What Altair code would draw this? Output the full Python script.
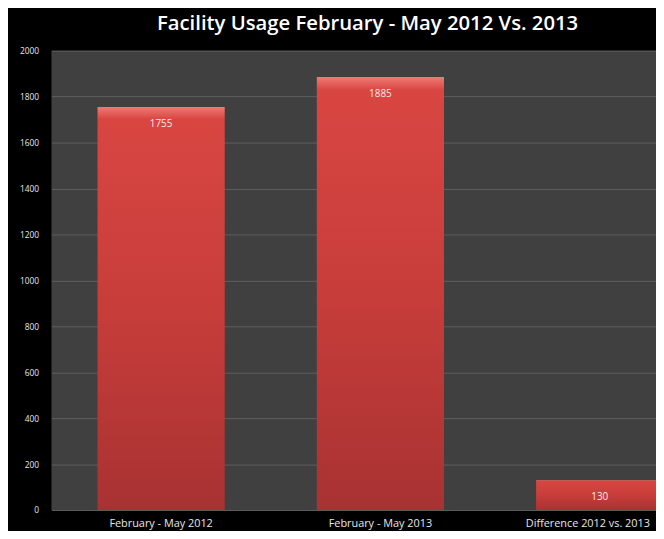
import altair as alt
import pandas as pd

categories = ["February - May 2012", "February - May 2013", "Difference 2012 vs. 2013"]
values = [1755, 1885, 130]
y_ticks = list(range(0, 2001, 200))
title_text = "Facility Usage February - May 2012 Vs. 2013"

df = pd.DataFrame({"category": categories, "value": values})

grad = alt.Gradient(
    gradient="linear",
    stops=[
        alt.GradientStop(color="#f07a74", offset=0),
        alt.GradientStop(color="#d94642", offset=0.03),
        alt.GradientStop(color="#c73d3a", offset=0.5),
        alt.GradientStop(color="#a83232", offset=1),
    ],
    x1=0, x2=0, y1=0, y2=1,
)

x = alt.X(
    "category:N",
    sort=categories,
    title=None,
    scale=alt.Scale(range=[0, 666], paddingInner=0.42, paddingOuter=0.21),
    axis=alt.Axis(
        labelAngle=0, labelColor="#e6e6e6", labelFont="Open Sans", labelFontSize=11,
        labelPadding=8, ticks=False, domain=False, labelOverlap=False,
        labelBound=False, labelLimit=0, grid=False,
        labelOffset=alt.ExprRef("datum.value == 'Difference 2012 vs. 2013' ? -12 : 0"),
    ),
)
y = alt.Y(
    "value:Q",
    title=None,
    scale=alt.Scale(domain=[0, 2000], nice=False),
    axis=alt.Axis(
        values=y_ticks, format="d", labelColor="#e6e6e6", labelFont="Open Sans",
        labelFontSize=8.5, labelPadding=13, ticks=False, domain=False,
        gridColor="#5e5e5e", gridWidth=1,
    ),
)

bars = alt.Chart(df).mark_bar(fill=grad, clip=True).encode(x=x, y=y)
labels = alt.Chart(df).mark_text(
    dy=17, color="#fbeaea", fontSize=10, font="Open Sans", baseline="middle", clip=True
).encode(x=alt.X("category:N", sort=categories), y="value:Q", text="value:Q")

chart = (
    (bars + labels)
    .properties(
        width=612,
        height=465,
        title=alt.TitleParams(
            title_text, color="white", font="Open Sans", fontSize=20.5, fontWeight=600,
            anchor="middle", frame="group", dx=14, offset=12,
        ),
        autosize=alt.AutoSizeParams(type="none"),
        padding={"left": 44, "top": 40, "right": 0, "bottom": 18},
        background="black",
    )
    .configure_view(fill="#404040", stroke=None)
)

chart.save("out.html", embed_options={"renderer": "svg", "actions": False})
